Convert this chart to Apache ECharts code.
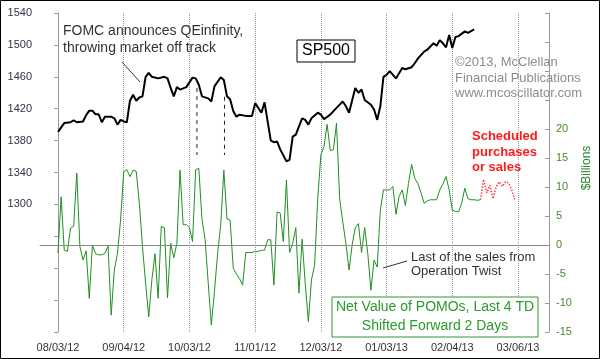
<!DOCTYPE html>
<html><head><meta charset="utf-8">
<script src="https://cdn.jsdelivr.net/npm/echarts@6/dist/echarts.min.js"></script>
<style>html,body{margin:0;padding:0;background:#fff}#c{width:600px;height:359px}</style>
</head><body><div id="c"></div><script>
// x = trading-day index counted from 08/03/12
const tickDays = [0, 21, 42, 63, 84, 105, 126, 147];
const tickLabels = ['08/03/12', '09/04/12', '10/03/12', '11/01/12', '12/03/12', '01/03/13', '02/04/13', '03/06/13'];

const spxDays = [0,2,4,5,6,8,9,10,11,12,13,14,15,17,18,19,20,21,22,23,24,25,26,27,28,29,30,32,34,35,36,37,38,39,41,42,43,44,45,46,48,49,50,52,53,54,55,56,57,58,60,62,63,65,66,68,69,70,71,73,74,75,76,78,79,80,81,83,84,85,87,89,91,92,93,95,96,97,98,100,101,102,103,104,105,106,108,110,111,113,114,115,117,118,120,121,122,123,124,125,126,127,128,130,131,133];
const spxValues = [1391,1402,1403,1405.5,1403,1404,1412,1417.5,1417.5,1413,1413,1403,1410,1410,1408,1400,1406,1404,1403,1430,1437.5,1430,1434,1435.5,1460,1465,1460,1458,1460,1458,1446,1435.5,1447,1444,1447,1453,1459,1458,1450,1435.5,1433,1429,1448,1459.5,1456,1435.5,1432,1417,1410,1412.5,1411,1411,1427,1415,1428,1380,1378,1379,1369,1354,1356,1385,1387.5,1408,1406,1400,1408,1415,1412.5,1407,1412.5,1421,1429,1423,1415,1446,1440,1444,1431,1425,1419,1406,1423,1460,1462.5,1467,1458,1471,1469.5,1472,1477,1483,1491.5,1494,1502,1499,1506,1502,1497,1512.5,1496,1510,1511,1517,1515,1519.5];

// Net value of POMOs ($ billions), one value per trading day starting at day 0
const pomoValues = [-1.4,8.3,-0.9,-1.1,2.9,3.2,12.4,-0.3,-2.6,-1.0,
  -9.2,0.0,-1.5,-1.7,-1.7,-1.4,-0.2,-12.1,-4.3,-1.5,
  4.3,12.6,13.0,11.8,12.9,12.7,7.2,-0.3,-6.6,-12.4,
  -6.0,-1.5,-9.2,3.2,3.0,-9.1,0.3,-2.2,0.3,12.9,
  3.5,3.5,3.0,0.6,13.0,13.2,4.5,1.0,-6.5,-13.8,
  -8.0,-1.5,3.5,12.9,4.5,4.3,-4.0,-5.0,-5.8,-6.9,
  -1.3,-1.3,-1.3,-1.1,-1.1,-0.9,-0.9,0.9,0.9,-6.9,
  5.7,5.5,0.6,11.2,-1.3,0.3,3.0,-8.3,1.0,-6.6,
  -13.2,-6.0,-3.5,8.0,15.5,17.0,20.8,16.3,16.4,21.0,
  8.0,4.0,0.3,-4.3,0.0,3.0,3.7,-1.3,3.0,-1.5,
  -7.8,-2.6,-3.8,6.0,9.5,9.5,9.5,10.1,5.3,8.4,
  9.5,6.8,10.6,13.9,11.5,10.6,9.0,7.2,7.6,7.8,
  7.8,7.8,9.5,10.5,11.8,9.5,6.0,5.8,5.7,7.2,
  9.8,8.0,7.8,7.8,7.7,7.8];
const scheduledDays = [135,136,137,138,139,140,141,142,143,144,145,146];
const scheduledValues = [7.8,11.3,9.0,10.3,8.0,10.0,10.9,10.1,10.9,10.7,9.5,7.8];

const fomcDays = [44.4, 53.2];
const fomcTop = [1446, 1435];
const fomcBottom = 1362;

const FONT = 'Arial, "Liberation Sans", sans-serif';
const chart = echarts.init(document.getElementById('c'), null, {renderer: 'canvas'});

const series = [
  {
    type: 'line', xAxisIndex: 0, yAxisIndex: 1, name: 'POMO',
    data: pomoValues.map((v, i) => [i, v]),
    showSymbol: false, lineStyle: {color: '#1f8f1f', width: 1}, z: 3,
    markLine: {
      silent: true, symbol: 'none', label: {show: false},
      lineStyle: {color: '#888', width: 1, type: 'solid'},
      data: [{yAxis: 0}]
    }
  },
  {
    type: 'line', xAxisIndex: 0, yAxisIndex: 1, name: 'Scheduled',
    data: scheduledDays.map((d, i) => [d, scheduledValues[i]]),
    showSymbol: false, lineStyle: {color: '#ff3b3b', width: 1.5, type: 'dotted'}, z: 3
  },
  {
    type: 'line', xAxisIndex: 0, yAxisIndex: 0, name: 'SP500',
    data: spxDays.map((d, i) => [d, spxValues[i]]),
    showSymbol: false, lineStyle: {color: '#000', width: 2}, z: 5
  }
];
fomcDays.forEach((d, i) => {
  series.push({
    type: 'line', xAxisIndex: 0, yAxisIndex: 0,
    data: [[d, fomcTop[i]], [d, fomcBottom]],
    showSymbol: false, lineStyle: {color: '#222', width: 1, type: [4, 4]}, z: 4
  });
});

chart.setOption({
  animation: false,
  backgroundColor: '#fff',
  grid: {left: 40, right: 51, top: 13, bottom: 27, containLabel: false},
  xAxis: {
    type: 'value', min: -5.75, max: 156.9,
    axisLine: {show: true, lineStyle: {color: '#999'}},
    axisTick: {show: false, customValues: tickDays},
    axisLabel: {
      customValues: tickDays, color: '#333', fontSize: 11, fontFamily: FONT, margin: 10,
      formatter: v => { const k = tickDays.indexOf(v); return k >= 0 ? tickLabels[k] : ''; }
    },
    splitLine: {show: true, lineStyle: {color: '#999', type: 'dotted', width: 1}}
  },
  yAxis: [
    {
      type: 'value', position: 'left', min: 1140, max: 1540, interval: 40,
      axisLine: {show: true, lineStyle: {color: '#999'}},
      axisTick: {show: true, length: 4, lineStyle: {color: '#999'}},
      axisLabel: {color: '#333344', fontSize: 11, fontFamily: FONT, margin: 8,
        formatter: v => v >= 1300 ? String(v) : ''},
      splitLine: {show: false}
    },
    {
      type: 'value', position: 'right', min: -15, max: 40, interval: 5,
      axisLine: {show: true, lineStyle: {color: '#999'}},
      axisTick: {show: true, inside: true, length: 4, lineStyle: {color: '#999'}},
      axisLabel: {color: '#4a8a2a', fontSize: 11, fontFamily: FONT, margin: 7,
        formatter: v => v <= 20 ? String(v) : ''},
      splitLine: {show: false}
    }
  ],
  series: series,
  graphic: [
    {type: 'text', left: 63, top: 23, z: 10, style: {
      text: 'FOMC announces QEinfinity,\nthrowing market off track',
      fill: '#333', font: '14px ' + FONT, lineHeight: 17}},
    {type: 'line', z: 10, shape: {x1: 122, y1: 62, x2: 140, y2: 82}, style: {stroke: '#333', lineWidth: 1}},
    {type: 'rect', z: 10, shape: {x: 297, y: 40, width: 58, height: 22}, style: {fill: '#fff', stroke: '#000', lineWidth: 1}},
    {type: 'text', z: 11, x: 326, y: 51, style: {text: 'SP500', fill: '#000', font: '16px ' + FONT, align: 'center', verticalAlign: 'middle'}},
    {type: 'text', z: 10, left: 455, top: 55, style: {
      text: '\u00a92013, McClellan\nFinancial Publications\nwww.mcoscillator.com',
      fill: '#8c8c8c', font: '13px ' + FONT, lineHeight: 15.5}},
    {type: 'text', z: 10, left: 472, top: 129, style: {
      text: 'Scheduled\npurchases\nor sales',
      fill: '#ff1a1a', font: 'bold 13px ' + FONT, lineHeight: 15.5}},
    {type: 'text', z: 10, left: 411, top: 250, style: {
      text: 'Last of the sales from\nOperation Twist',
      fill: '#333', font: '13px ' + FONT, lineHeight: 14}},
    {type: 'line', z: 10, shape: {x1: 383, y1: 268, x2: 407, y2: 261}, style: {stroke: '#333', lineWidth: 1}},
    {type: 'rect', z: 10, shape: {x: 332, y: 297, width: 206, height: 40}, style: {fill: '#fff', stroke: '#2a9a2a', lineWidth: 1}},
    {type: 'text', z: 11, x: 435, y: 317, style: {
      text: 'Net Value of POMOs, Last 4 TD\nShifted Forward 2 Days',
      fill: '#2a9a2a', font: '14px ' + FONT, lineHeight: 19, align: 'center', verticalAlign: 'middle'}},
    {type: 'text', z: 10, x: 587, y: 168, rotation: Math.PI / 2, style: {
      text: '$Billions', fill: '#2a8a2a', font: '12px ' + FONT, align: 'center', verticalAlign: 'middle'}},
    {type: 'rect', z: 20, shape: {x: 0.5, y: 0.5, width: 599, height: 358}, style: {fill: 'none', stroke: '#000', lineWidth: 1}}
  ]
});
</script></body></html>
